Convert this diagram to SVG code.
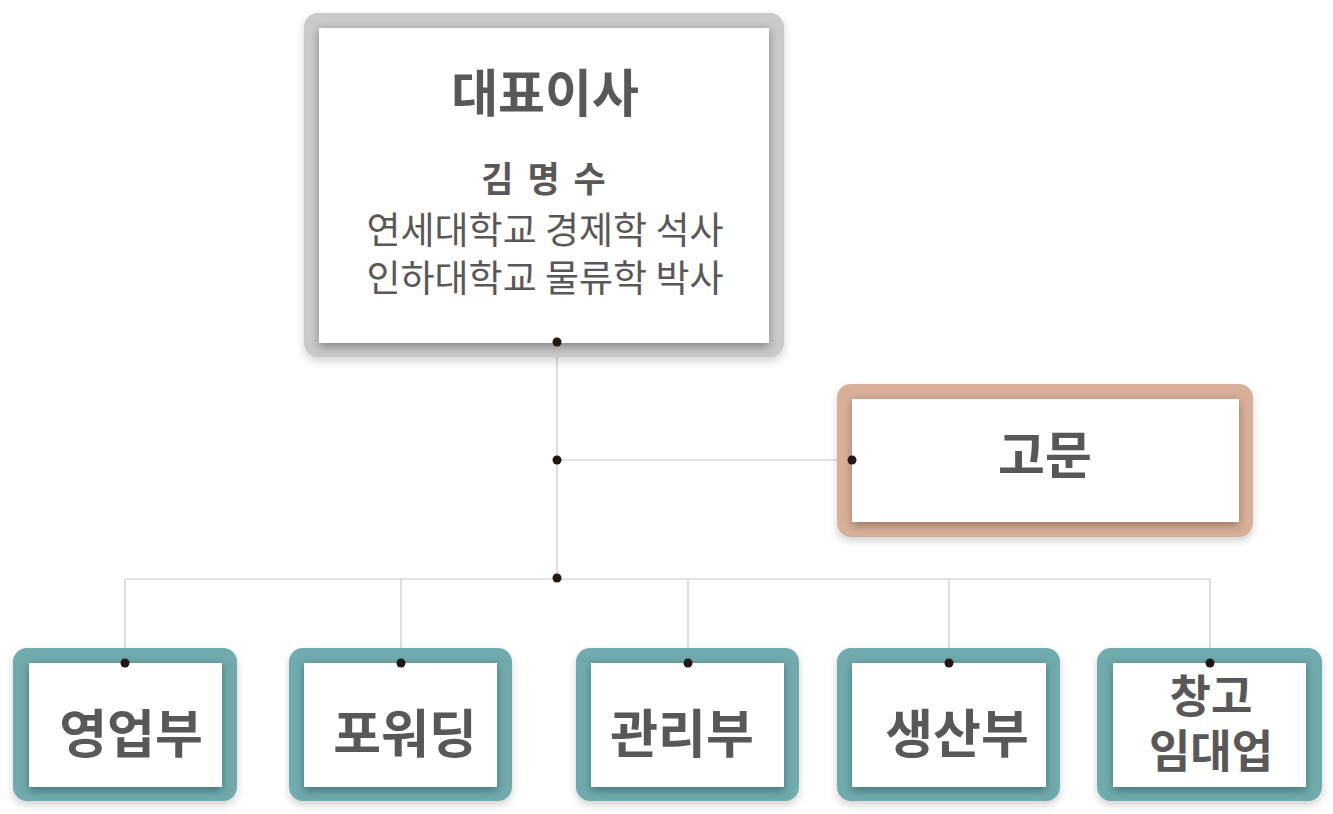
<svg xmlns="http://www.w3.org/2000/svg" width="1333" height="814" viewBox="0 0 1333 814">
<defs>
<style>
.t{font-family:"Noto Sans CJK KR","Noto Sans",sans-serif;fill:#595757;text-anchor:middle}
.b{font-weight:700}
.ln{stroke:#c8c8c8;stroke-width:1.2;fill:none}
.dot{fill:#231815}
.white{fill:#ffffff}
</style>
<filter id="ds" x="-10%" y="-10%" width="120%" height="125%">
<feGaussianBlur in="SourceAlpha" stdDeviation="4"/>
<feOffset dy="4"/>
<feComponentTransfer><feFuncA type="linear" slope="0.18"/></feComponentTransfer>
<feMerge><feMergeNode/><feMergeNode in="SourceGraphic"/></feMerge>
</filter>
<filter id="blur" x="-20%" y="-20%" width="140%" height="140%">
<feGaussianBlur stdDeviation="5"/>
</filter>
<clipPath id="c0"><rect x="304" y="13" width="480" height="344" rx="14"/></clipPath>
<clipPath id="c1"><rect x="837" y="384" width="416" height="153" rx="14"/></clipPath>
<clipPath id="c2"><rect x="13" y="648" width="224" height="153" rx="14"/></clipPath>
<clipPath id="c3"><rect x="289" y="648" width="223" height="153" rx="14"/></clipPath>
<clipPath id="c4"><rect x="576" y="648" width="223" height="153" rx="14"/></clipPath>
<clipPath id="c5"><rect x="837" y="648" width="223" height="153" rx="14"/></clipPath>
<clipPath id="c6"><rect x="1097" y="648" width="225" height="153" rx="14"/></clipPath>
</defs>

<g id="connectors">
<path class="ln" d="M557 342V579M557 460H852M125 579H1210M125 579V663M401 579V663M688 579V663M949 579V663M1210 579V663"/>
</g>

<g id="ceo">
<rect x="304" y="13" width="480" height="344" rx="14" fill="#cacaca" filter="url(#ds)"/>
<g clip-path="url(#c0)"><rect x="319" y="30" width="450" height="317" fill="#848484" filter="url(#blur)"/></g>
<rect class="white" x="319" y="28" width="450" height="315"/>
<text class="t b" x="545" y="112" font-size="51">대표이사</text>
<text class="t b" x="545" y="192" font-size="35" letter-spacing="3">김 명 수</text>
<text class="t" x="545" y="244" font-size="37">연세대학교 경제학 석사</text>
<text class="t" x="545" y="292" font-size="37">인하대학교 물류학 박사</text>
</g>

<g id="advisor">
<rect x="837" y="384" width="416" height="153" rx="14" fill="#d8b09a" filter="url(#ds)"/>
<g clip-path="url(#c1)"><rect x="852" y="401" width="387" height="125" fill="#9c7a68" filter="url(#blur)"/></g>
<rect class="white" x="852" y="399" width="387" height="123"/>
<text class="t b" x="1045" y="474" font-size="51">고문</text>
</g>

<g id="sales">
<rect x="13" y="648" width="224" height="153" rx="14" fill="#72abad" filter="url(#ds)"/>
<g clip-path="url(#c2)"><rect x="29" y="665" width="193" height="126" fill="#42777a" filter="url(#blur)"/></g>
<rect class="white" x="29" y="663" width="193" height="124"/>
<text class="t b" x="131" y="753" font-size="52">영업부</text>
</g>

<g id="forwarding">
<rect x="289" y="648" width="223" height="153" rx="14" fill="#72abad" filter="url(#ds)"/>
<g clip-path="url(#c3)"><rect x="304" y="665" width="193" height="126" fill="#42777a" filter="url(#blur)"/></g>
<rect class="white" x="304" y="663" width="193" height="124"/>
<text class="t b" x="405" y="753" font-size="52">포워딩</text>
</g>

<g id="admin">
<rect x="576" y="648" width="223" height="153" rx="14" fill="#72abad" filter="url(#ds)"/>
<g clip-path="url(#c4)"><rect x="591" y="665" width="193" height="126" fill="#42777a" filter="url(#blur)"/></g>
<rect class="white" x="591" y="663" width="193" height="124"/>
<text class="t b" x="682" y="753" font-size="52">관리부</text>
</g>

<g id="production">
<rect x="837" y="648" width="223" height="153" rx="14" fill="#72abad" filter="url(#ds)"/>
<g clip-path="url(#c5)"><rect x="852" y="665" width="194" height="126" fill="#42777a" filter="url(#blur)"/></g>
<rect class="white" x="852" y="663" width="194" height="124"/>
<text class="t b" x="957" y="753" font-size="52">생산부</text>
</g>

<g id="warehouse">
<rect x="1097" y="648" width="225" height="153" rx="14" fill="#72abad" filter="url(#ds)"/>
<g clip-path="url(#c6)"><rect x="1113" y="665" width="193" height="126" fill="#42777a" filter="url(#blur)"/></g>
<rect class="white" x="1113" y="663" width="193" height="124"/>
<text class="t b" x="1211" y="713" font-size="45">창고</text>
<text class="t b" x="1211" y="768" font-size="45">임대업</text>
</g>

<g id="dots">
<circle class="dot" cx="557" cy="342" r="4.5"/>
<circle class="dot" cx="557" cy="460" r="4.5"/>
<circle class="dot" cx="852" cy="460" r="4.5"/>
<circle class="dot" cx="557" cy="578" r="4.5"/>
<circle class="dot" cx="125" cy="663" r="4.5"/>
<circle class="dot" cx="401" cy="663" r="4.5"/>
<circle class="dot" cx="688" cy="663" r="4.5"/>
<circle class="dot" cx="949" cy="663" r="4.5"/>
<circle class="dot" cx="1210" cy="663" r="4.5"/>
</g>
</svg>
